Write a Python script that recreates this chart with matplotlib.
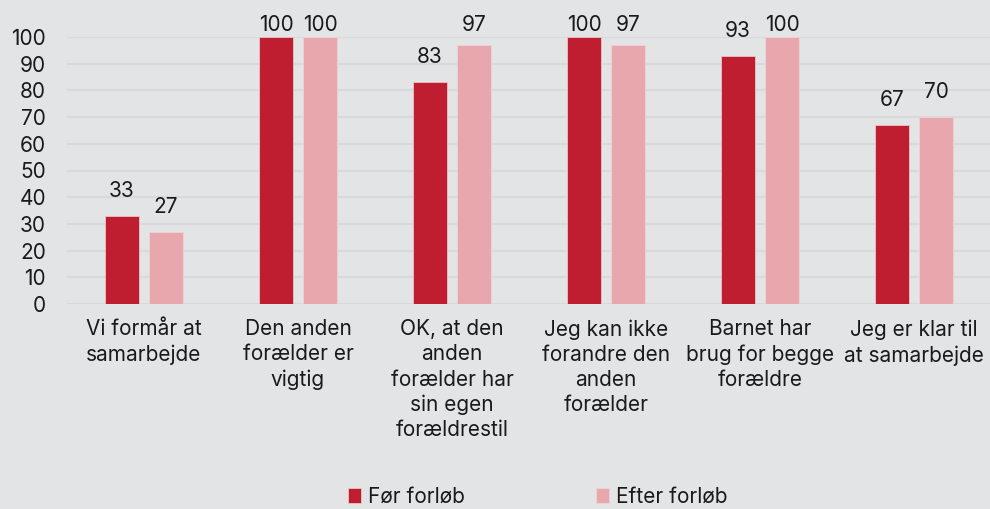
import matplotlib
matplotlib.use('Agg')
import matplotlib.pyplot as plt
import numpy as np

categories = [
    "Vi formår at\nsamarbejde",
    "Den anden\nforælder er\nvigtig",
    "OK, at den\nanden\nforælder har\nsin egen\nforældrestil",
    "Jeg kan ikke\nforandre den\nanden\nforælder",
    "Barnet har\nbrug for begge\nforældre",
    "Jeg er klar til\nat samarbejde",
]
foer = [33, 100, 83, 100, 93, 67]
efter = [27, 100, 97, 97, 100, 70]
series_names = ["Før forløb", "Efter forløb"]
yticks = list(range(0, 101, 10))

bg = "#e3e4e6"
c_dark = "#be1e2f"
c_light = "#e8a7ad"
txt = "#1a1a1a"
fs = 15

plt.rcParams['font.family'] = ['Inter', 'DejaVu Sans']

fig = plt.figure(figsize=(9.9, 5.09), dpi=100, facecolor=bg)
ax = fig.add_axes([67 / 990, 1 - 304 / 509, 924 / 990, 267 / 509])
ax.set_facecolor(bg)

x = np.arange(len(categories))
w = 0.22
off = 0.143
b1 = ax.bar(x - off, foer, w, color=c_dark, edgecolor="#e9c4c7", linewidth=0.6,
            label=series_names[0], zorder=3)
b2 = ax.bar(x + off, efter, w, color=c_light, edgecolor="#efd3d6", linewidth=0.6,
            label=series_names[1], zorder=3)

# value labels sit above the bar, but never higher than a fixed line above the top
for bars, vals in ((b1, foer), (b2, efter)):
    for r, v in zip(bars, vals):
        ly = min(v + 9.4, 104.6)
        ax.text(r.get_x() + r.get_width() / 2, ly, str(v), ha="center", va="center",
                fontsize=fs, color=txt, clip_on=False)

ax.set_xlim(-0.5, len(categories) - 0.5)
ax.set_ylim(0, 100)
ax.set_yticks(yticks)
ax.set_xticks(x)
ax.set_xticklabels(categories, fontsize=fs, color=txt, linespacing=1.32)
ax.tick_params(axis='y', length=0, pad=15, labelsize=fs, labelcolor=txt)
ax.tick_params(axis='x', length=0, pad=11)
ax.yaxis.grid(True, color="#d8d9db", linewidth=1.5, zorder=0)
ax.set_axisbelow(True)
for s in ax.spines.values():
    s.set_visible(False)

fig.legend(handles=[b1, b2], loc="center", bbox_to_anchor=(538 / 990, 12 / 509),
           ncol=2, frameon=False, fontsize=fs, handlelength=0.6, handleheight=0.75,
           handletextpad=0.35, columnspacing=6.3, labelcolor=txt)

fig.savefig("out.png", dpi=100, facecolor=bg)
